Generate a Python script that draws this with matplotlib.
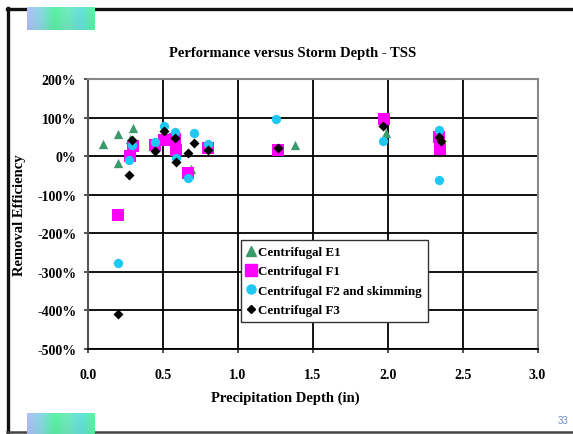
import numpy as np
import matplotlib
matplotlib.use("Agg")
import matplotlib.pyplot as plt
from matplotlib.lines import Line2D

# ---- data ----
e1_x = [0.10, 0.20, 0.20, 0.30, 0.28, 0.69, 1.38, 1.99]
e1_y = [31, 57, -18, 74, 44, -33, 30, 59]

f1_x = [0.20, 0.28, 0.30, 0.45, 0.51, 0.58, 0.59, 0.67, 0.80, 1.27, 1.975, 2.34, 2.35]
f1_y = [-152, 0, 27, 29, 43, 44, 16, -43, 20, 16, 97, 49, 19]

f2_x = [0.20, 0.276, 0.296, 0.447, 0.51, 0.58, 0.59, 0.71, 0.665, 0.80, 1.258, 1.97, 2.34, 2.34]
f2_y = [-276, -11, 29, 36, 77, 63, -5, 60, -56, 31, 97, 39, 67, -63]

f3_x = [0.198, 0.276, 0.296, 0.447, 0.51, 0.58, 0.587, 0.67, 0.71, 0.80, 1.27, 1.97, 2.34, 2.356]
f3_y = [-408, -50, 42, 14, 66, 47, -15, 8, 33, 16, 21, 77, 49, 40]

series_names = ["Centrifugal E1", "Centrifugal F1", "Centrifugal F2 and skimming", "Centrifugal F3"]
x_ticks = [0.0, 0.5, 1.0, 1.5, 2.0, 2.5, 3.0]
x_tick_labels = ["0.0", "0.5", "1.0", "1.5", "2.0", "2.5", "3.0"]
y_ticks = [200, 100, 0, -100, -200, -300, -400, -500]
y_tick_labels = ["200%", "100%", "0%", "-100%", "-200%", "-300%", "-400%", "-500%"]

title = "Performance versus Storm Depth - TSS"
xlabel = "Precipitation Depth (in)"
ylabel = "Removal Efficiency"

plt.rcParams['font.family'] = ['Liberation Serif', 'DejaVu Serif']

W, H = 573, 435
fig = plt.figure(figsize=(W / 100, H / 100), dpi=100)
fig.patch.set_facecolor("white")

def fx(px):
    return px / W

def fy(py):
    return 1 - py / H

ax = fig.add_axes([fx(88), fy(350), fx(537.5) - fx(88), fy(80) - fy(350)])
ax.set_xlim(0, 3)
ax.set_ylim(-500, 200)

ax.set_xticks(x_ticks)
ax.set_xticklabels(x_tick_labels, fontsize=10, fontweight="bold")
ax.set_yticks(y_ticks)
ax.set_yticklabels(y_tick_labels, fontsize=10, fontweight="bold")
ax.tick_params(direction="out", length=3, width=1.2, color="#333333")
ax.tick_params(axis="y", pad=5.5)
ax.tick_params(axis="x", pad=11)

ax.grid(True, color="black", linewidth=1.3)
ax.set_axisbelow(True)
for s in ["top", "right"]:
    ax.spines[s].set_color("#888888")
    ax.spines[s].set_linewidth(1.5)
ax.spines["left"].set_color("#555555")
ax.spines["left"].set_linewidth(1.5)
ax.spines["bottom"].set_color("black")
ax.spines["bottom"].set_linewidth(1.3)

green = "#3a9a6a"
magenta = "#ff00ff"
cyan = "#1ec8f2"

ax.scatter(e1_x, e1_y, marker="^", s=45, color=green, zorder=3, linewidths=0)
ax.scatter(f1_x, f1_y, marker="s", s=72, color=magenta, zorder=4, linewidths=0)
ax.scatter(f2_x, f2_y, marker="o", s=45, color=cyan, zorder=5, linewidths=0)
ax.scatter(f3_x, f3_y, marker="D", s=26, color="black", zorder=6, linewidths=0)

handles = [
    Line2D([], [], marker="^", color=green, linestyle="none", markersize=6.5),
    Line2D([], [], marker="s", color=magenta, linestyle="none", markersize=8),
    Line2D([], [], marker="o", color=cyan, linestyle="none", markersize=6.5),
    Line2D([], [], marker="D", color="black", linestyle="none", markersize=4.5),
]
leg = ax.legend(handles, series_names, loc="lower left",
                prop={"weight": "bold", "size": 9.4},
                frameon=True, fancybox=False, framealpha=1,
                handlelength=0.6, handletextpad=0.25, borderpad=0.45,
                labelspacing=0.55, borderaxespad=0)
leg.get_frame().set_edgecolor("#333333")
leg.get_frame().set_linewidth(1.0)
leg.set_zorder(10)
leg.set_bbox_to_anchor((fx(241.5), fy(323)), transform=fig.transFigure)

fig.text(fx(292.5), fy(53), title, ha="center", va="center", fontsize=10.5, fontweight="bold")
fig.text(fx(285.5), fy(398), xlabel, ha="center", va="center", fontsize=10.5, fontweight="bold")
fig.text(fx(20), fy(215), ylabel, ha="center", va="center", rotation=90, fontsize=10.5, fontweight="bold")

# slide border
bc = "#111111"
fig.add_artist(Line2D([fx(8), fx(8)], [fy(9), fy(433)], color=bc, linewidth=2.4, transform=fig.transFigure))
fig.add_artist(Line2D([fx(7), fx(573)], [fy(10), fy(10)], color=bc, linewidth=2.4, transform=fig.transFigure))
fig.add_artist(Line2D([fx(7), fx(573)], [fy(432.5), fy(432.5)], color="#444444", linewidth=1.8, transform=fig.transFigure))

# logo gradient blocks
def logo(x0, y0, x1, y1):
    lax = fig.add_axes([fx(x0), fy(y1), fx(x1) - fx(x0), fy(y0) - fy(y1)])
    cols = np.array([[0.70, 0.75, 0.98], [0.55, 0.85, 0.90], [0.35, 0.95, 0.65],
                     [0.45, 0.92, 0.75], [0.40, 0.88, 0.88], [0.35, 0.97, 0.62]])
    n = 60
    t = np.linspace(0, len(cols) - 1, n)
    row = np.array([np.interp(t, np.arange(len(cols)), cols[:, c]) for c in range(3)]).T
    img = np.tile(row[None, :, :], (8, 1, 1))
    shade = np.linspace(1.0, 0.95, 8)[:, None, None]
    img = np.clip(img * shade, 0, 1)
    lax.imshow(img, aspect="auto", interpolation="bilinear")
    lax.axis("off")
    lax.set_zorder(20)

logo(27, 8, 95, 31)
logo(27, 414, 95, 435)

fig.text(fx(563), fy(421), "33", ha="center", va="center", fontsize=7,
         color="#6a8fc0", family=["Liberation Sans", "DejaVu Sans"])

fig.savefig("out.png", dpi=100, facecolor="white")
